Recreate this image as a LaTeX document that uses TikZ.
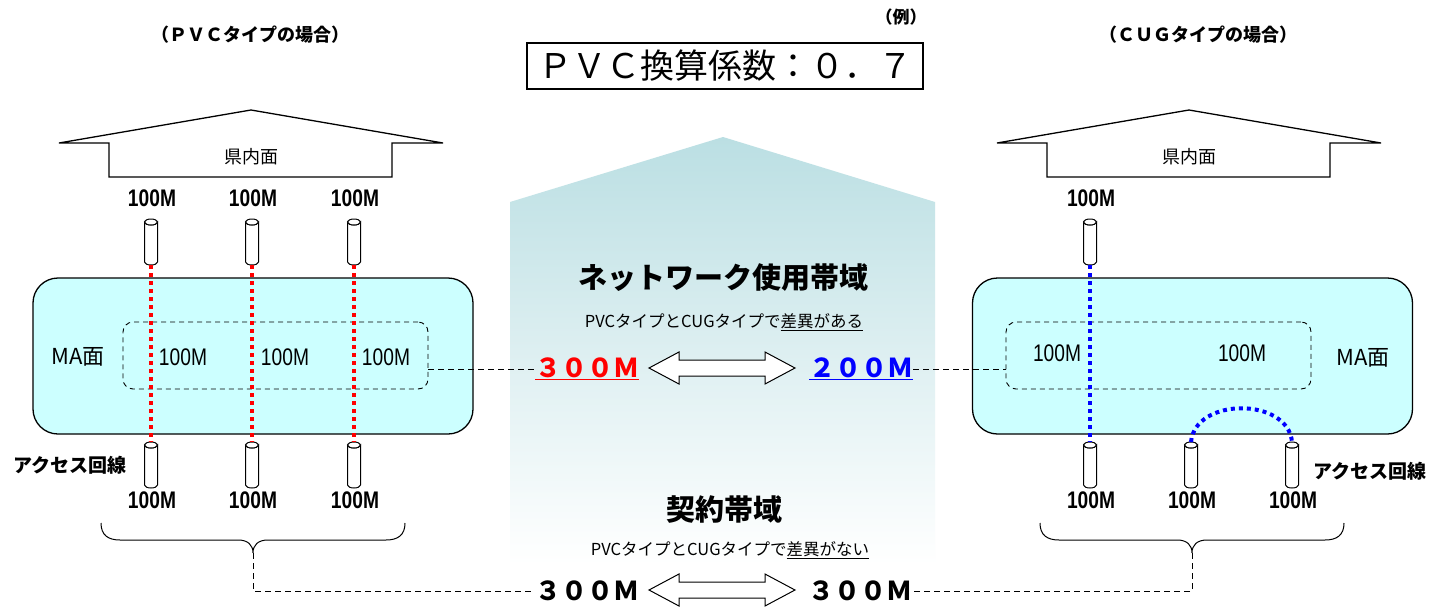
\documentclass[tikz,border=0pt]{standalone}
\usepackage{fontspec}
\setmainfont{Noto Sans CJK JP}
\newfontfamily\narrowfont[FakeStretch=0.8]{Liberation Sans}

\definecolor{maface}{HTML}{CCFFFF}
\definecolor{bandteal}{HTML}{BBDFE3}
\definecolor{netred}{HTML}{FF0000}
\definecolor{netblue}{HTML}{0000FF}

% white block arrow with two heads, centred on #1
\newcommand{\widearrow}[1]{%
  \draw[line width=1pt, fill=white, shift={#1}]
    (-73,0) -- (-43,-16) -- (-43,-8) -- (43,-8) -- (43,-16) -- (73,0)
    -- (43,16) -- (43,8) -- (-43,8) -- (-43,16) -- cycle;}

\begin{document}
\begin{tikzpicture}[x=1pt, y=-1pt,
    pipe/.pic={
      \draw[line width=1pt, fill=white] (-6.5,-20) -- (-6.5,20)
        arc[start angle=180, end angle=0, x radius=6.5, y radius=3] -- (6.5,-20)
        arc[start angle=0, end angle=180, x radius=6.5, y radius=3] -- cycle;
      \draw[line width=1pt, fill=white] (0,-20) ellipse[x radius=6.5, y radius=3];
      \coordinate (-top) at (0,-23);
      \coordinate (-bot) at (0,23);
    },
    mabox/.style={draw, line width=1.3pt, fill=maface, rounded corners=25pt,
      minimum width=440pt, minimum height=156pt},
    inbox/.style={draw, line width=0.9pt, dash pattern=on 5pt off 4pt, rounded corners=10pt,
      minimum width=305pt, minimum height=67pt},
    house/.style={draw, line width=1.3pt},
    hdr/.style={font=\bfseries\fontsize{18}{18}\selectfont, inner sep=0pt},
    face/.style={font=\fontsize{18}{18}\selectfont, inner sep=0pt},
    bw/.style={font=\narrowfont\bfseries\fontsize{24}{24}\selectfont, inner sep=0pt},
    rw/.style={font=\narrowfont\fontsize{24}{24}\selectfont, inner sep=0pt},
    note/.style={font=\bfseries\fontsize{19}{19}\selectfont, inner sep=0pt},
    big/.style={font=\bfseries\fontsize{26}{26}\selectfont, inner sep=0pt},
    head/.style={font=\bfseries\fontsize{29}{29}\selectfont, inner sep=0pt},
    sub/.style={font=\fontsize{16.5}{16.5}\selectfont, inner sep=0pt},
    link/.style={line width=1pt, dash pattern=on 6pt off 4pt},
    reddot/.style={netred, line width=4pt, dash pattern=on 4pt off 4pt},
    bluedot/.style={netblue, line width=4pt, dash pattern=on 4pt off 4pt}
]
    \fill[white] (0,0) rectangle (1434,608);
    \useasboundingbox (0,0) rectangle (1434,608);

    % central band
    \shade[top color=bandteal, bottom color=white]
      (510,202) -- (723,137) -- (935,202) -- (935,565) -- (510,565) -- cycle;

    % titles
    \node[hdr] (pvcT) at (250,35) {（ＰＶＣタイプの場合）};
    \node[hdr] (cugT) at (1198,35) {（ＣＵＧタイプの場合）};
    \node[hdr, font=\bfseries\fontsize{17}{17}\selectfont] (ex) at (901,17) {（例）};
    \node[draw, line width=1.5pt, inner sep=0pt, minimum width=396pt, minimum height=46pt,
      font=\fontsize{34}{34}\selectfont] (ratio) at (725,66) {ＰＶＣ換算係数：０．７};

    % prefecture blocks
    \foreach \cx/\nm in {251/L, 1189/R} {
      \draw[house, shift={(\cx,0)}] (-192,143) -- (0,110) -- (192,143) -- (141,143)
        -- (141,177) -- (-142,177) -- (-142,143) -- cycle;
      \node[face] (pref\nm) at (\cx,157) {県内面};
    }

    % MA areas
    \node[mabox] (maL) at (253,356) {};
    \node[inbox] (inL) at (275.5,355.5) {};
    \node[mabox] (maR) at (1192.5,356) {};
    \node[inbox] (inR) at (1158.5,355.5) {};
    \node[face, font=\fontsize{22}{22}\selectfont] (maTL) at (78,357) {MA面};
    \node[face, font=\fontsize{22}{22}\selectfont] (maTR) at (1363,358) {MA面};

    % PVC side: three lines straight through
    \foreach \x/\ix [count=\i] in {151/183, 252/285, 354/386} {
      \pic (tL\i) at (\x,242) {pipe};
      \pic (bL\i) at (\x,465) {pipe};
      \node[bw] (tLl\i) at (\x+1,198) {100M};
      \node[bw] (bLl\i) at (\x+1,500) {100M};
      \node[rw] (iL\i) at (\ix,357) {100M};
      \draw[reddot] (tL\i-bot) -- (bL\i-top);
    }
    \node[note] (accL) at (70,465) {アクセス回線};

    % CUG side
    \pic (tR1) at (1090,242) {pipe};
    \node[bw] (tRl1) at (1091,198) {100M};
    \foreach \x [count=\i] in {1090, 1191, 1292} {
      \pic (bR\i) at (\x,465) {pipe};
      \node[bw] (bRl\i) at (\x+1,500) {100M};
    }
    \node[rw] (iR1) at (1057,353) {100M};
    \node[rw] (iR2) at (1242,353) {100M};
    \draw[bluedot] (tR1-bot) -- (bR1-top);
    \draw[bluedot] (bR2-top) .. controls +(4,-45) and +(-4,-45) .. (bR3-top);
    \node[note] (accR) at (1370,471) {アクセス回線};

    % network bandwidth
    \node[head] (netH) at (723,278) {ネットワーク使用帯域};
    \node[sub] (netS) at (724,322) {PVCタイプとCUGタイプで\underline{差異がある}};
    \node[big, text=netred] (netL) at (587,369) {\underline{３００Ｍ}};
    \node[big, text=netblue] (netR) at (861,369) {\underline{２００Ｍ}};
    \widearrow{(722,368)}
    \draw[link] (inL.east |- netL.west) -- (netL.west);
    \draw[link] (netR.east) -- (inR.west |- netR.east);

    % contract bandwidth
    \node[head] (conH) at (724,510) {契約帯域};
    \node[sub] (conS) at (730,550) {PVCタイプとCUGタイプで\underline{差異がない}};
    \node[big] (conL) at (587,591) {３００Ｍ};
    \node[big] (conR) at (860,591) {３００Ｍ};
    \widearrow{(722,590)}

    % braces
    \coordinate (braceL) at (253,553);
    \coordinate (braceR) at (1192,553);
    \draw[line width=1pt] (101,523) .. controls (101,535) and (108,540) .. (120,540) -- (238,540)
      .. controls (248,540) and (253,545) .. (braceL) .. controls (253,545) and (258,540) .. (268,540)
      -- (386,540) .. controls (398,540) and (405,535) .. (405,523);
    \draw[line width=1pt] (1040,523) .. controls (1040,535) and (1047,540) .. (1059,540) -- (1177,540)
      .. controls (1187,540) and (1192,545) .. (braceR) .. controls (1192,545) and (1197,540) .. (1207,540)
      -- (1325,540) .. controls (1337,540) and (1344,535) .. (1344,523);
    \draw[link] (braceL) |- (conL.west);
    \draw[link] (braceR) |- (conR.east);
\end{tikzpicture}
\end{document}
